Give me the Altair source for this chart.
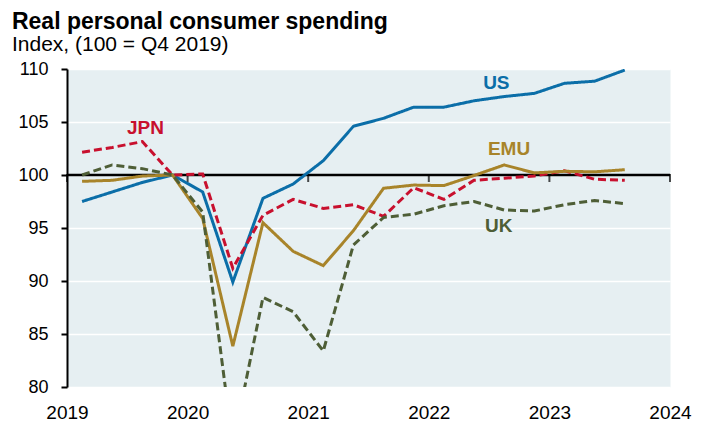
import altair as alt
import pandas as pd

FONT = "Liberation Sans, Arial, Helvetica, sans-serif"

quarters = ["2019Q1", "2019Q2", "2019Q3", "2019Q4",
            "2020Q1", "2020Q2", "2020Q3", "2020Q4",
            "2021Q1", "2021Q2", "2021Q3", "2021Q4",
            "2022Q1", "2022Q2", "2022Q3", "2022Q4",
            "2023Q1", "2023Q2", "2023Q3"]

us = [97.5, 98.4, 99.3, 100.0, 98.4, 89.9, 97.8, 99.15, 101.35, 104.6, 105.35,
      106.4, 106.4, 107.0, 107.4, 107.7, 108.65, 108.85, 109.9]
jpn = [102.15, 102.6, 103.15, 100.0, 100.1, 91.2, 96.2, 97.7, 96.85, 97.2, 96.1,
       98.8, 97.7, 99.5, 99.7, 99.9, 100.4, 99.6, 99.5]
emu = [99.4, 99.5, 99.9, 100.0, 95.9, 83.85, 95.5, 92.8, 91.45, 94.75, 98.75,
       99.05, 99.0, 99.95, 100.95, 100.2, 100.35, 100.3, 100.5]
uk = [100.0, 100.95, 100.6, 100.0, 96.5, 74.5, 88.45, 87.1, 83.4, 93.4, 96.0,
      96.3, 97.1, 97.5, 96.7, 96.6, 97.2, 97.6, 97.3]

series_names = ["US", "JPN", "EMU", "UK"]
series_colors = ["#0b6ea8", "#c8102e", "#a8842a", "#4e5e36"]
series_dash = [[1, 0], [8, 4], [1, 0], [8, 4]]

label_x = [2022.56, 2019.65, 2022.665, 2022.58]
label_y = [108.7, 104.4, 102.45, 95.15]

year_ticks = [2019, 2020, 2021, 2022, 2023, 2024]
y_ticks = [80, 85, 90, 95, 100, 105, 110]


def quarter_mid(q):
    y, n = q.split("Q")
    return int(y) + (int(n) - 0.5) / 4.0


rows = []
for name, vals in zip(series_names, [us, jpn, emu, uk]):
    for q, v in zip(quarters, vals):
        rows.append({"t": quarter_mid(q), "value": v, "series": name})
df = pd.DataFrame(rows)

labels_df = pd.DataFrame({"series": series_names, "t": label_x, "value": label_y})
ticks_df = pd.DataFrame({"t": year_ticks, "value": [100] * len(year_ticks)})

x_scale = alt.Scale(domain=[2019, 2024], nice=False, zero=False)
y_scale = alt.Scale(domain=[80, 110], nice=False, zero=False)

x_axis = alt.Axis(values=year_ticks, format="d", grid=False, domain=False, ticks=False,
                  labelFlush=False, labelFontSize=19, labelPadding=16,
                  labelColor="black", labelFont=FONT, title=None)
y_axis = alt.Axis(values=y_ticks, grid=True, gridColor="white", gridWidth=1.5,
                  domainColor="black", domainWidth=2, tickColor="black", tickWidth=2,
                  tickSize=6, labelPadding=13, labelFontSize=18, labelColor="black",
                  labelFont=FONT, title=None)

x_enc = alt.X("t:Q", scale=x_scale, axis=x_axis)
y_enc = alt.Y("value:Q", scale=y_scale, axis=y_axis)

color_scale = alt.Scale(domain=series_names, range=series_colors)
dash_scale = alt.Scale(domain=series_names, range=series_dash)

zero_rule = alt.Chart().mark_rule(color="black", strokeWidth=2.5).encode(
    y=alt.datum(100, scale=y_scale, axis=y_axis)
)

year_marks = alt.Chart(ticks_df).mark_tick(
    color="black", orient="vertical", size=8, thickness=2, yOffset=3
).encode(x=x_enc, y=y_enc)

lines = alt.Chart(df).mark_line(strokeWidth=3, clip=True).encode(
    x=x_enc,
    y=y_enc,
    color=alt.Color("series:N", scale=color_scale, legend=None),
    strokeDash=alt.StrokeDash("series:N", scale=dash_scale, legend=None),
    detail="series:N",
)

texts = alt.Chart(labels_df).mark_text(
    fontSize=19, fontWeight="bold", font=FONT, align="center", baseline="middle"
).encode(
    x=x_enc,
    y=y_enc,
    text="series:N",
    color=alt.Color("series:N", scale=color_scale, legend=None),
)

chart = alt.layer(zero_rule, year_marks, lines, texts).properties(
    width=603,
    height=318,
    padding={"left": 3, "top": 3, "right": 5, "bottom": 0},
    title=alt.TitleParams(
        text="Real personal consumer spending",
        subtitle="Index, (100 = Q4 2019)",
        anchor="start",
        frame="bounds",
        font=FONT,
        fontSize=23,
        fontWeight="bold",
        color="black",
        subtitleFont=FONT,
        subtitleFontSize=21,
        subtitleColor="black",
        subtitlePadding=0,
        offset=5,
        dx=-6,
    ),
).configure_view(fill="#e6eff2", stroke="transparent")

chart.save("out.html", embed_options={"renderer": "svg", "actions": False})
